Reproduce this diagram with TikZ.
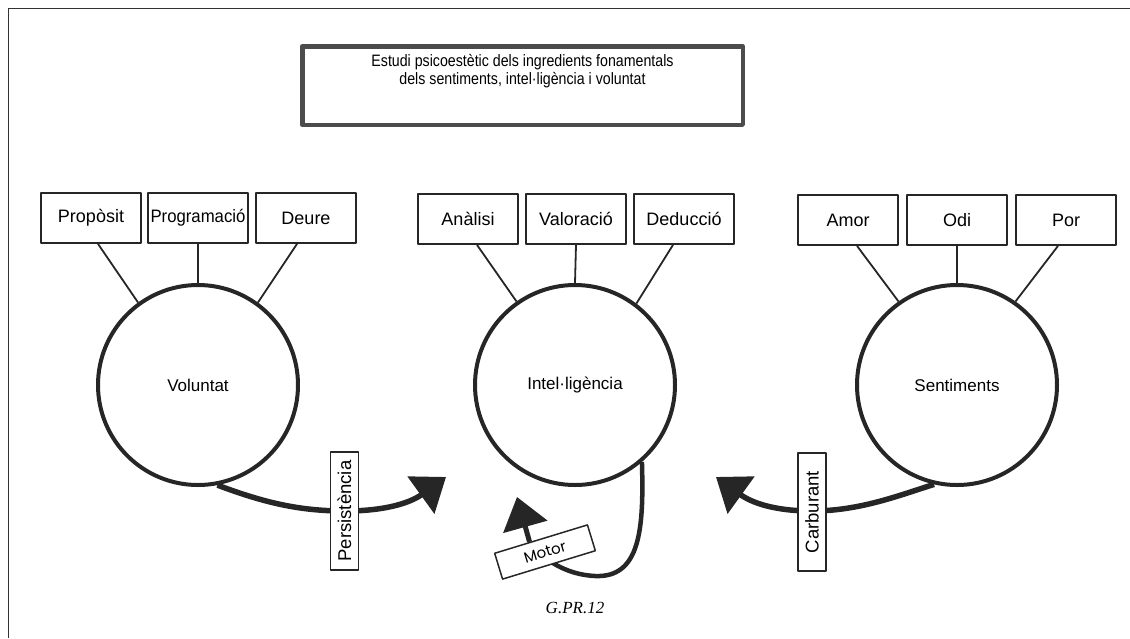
\documentclass[tikz,border=0pt]{standalone}
\usepackage{fontspec}
\setmainfont{Liberation Sans}
\newfontfamily\capfont{Liberation Serif}
\newfontfamily\motorfont{Poppins}
\usetikzlibrary{arrows.meta,calc}
\begin{document}
\begin{tikzpicture}[x=1pt,y=-1pt,line join=round,
  item/.style={draw=black!85,line width=1.8pt,minimum width=100pt,minimum height=50pt,inner sep=0pt,font=\fontsize{18}{20}\selectfont},
  core/.style={circle,draw=black!85,line width=4pt,minimum size=200pt,inner sep=0pt,font=\fontsize{17}{19}\selectfont},
  spoke/.style={draw=black!85,line width=1.8pt},
  flow/.style={draw=black!85,line width=5.5pt},
  tag/.style={draw=black!85,fill=white,line width=1.5pt,inner sep=0pt,minimum width=118pt,minimum height=28pt,font=\fontsize{18.5}{20}\selectfont},
  head/.style={-{Triangle[length=31pt,width=45pt]}},
]
\useasboundingbox (0,0) rectangle (1130,638);
% frame
\draw[black!80,line width=1.6pt] (8.5,638) -- (8.5,8.5) -- (1130,8.5);
% title
\node[draw=black!70,line width=4.5pt,minimum width=440.5pt,minimum height=78.5pt,inner sep=0pt] (title) at (522.5,85.5) {};
\node[inner sep=0pt,font=\fontsize{16.5}{18}\selectfont] (titletext) at (522.5,72) {\scalebox{0.86}[1]{\begin{tabular}{@{}c@{}}Estudi psicoestètic dels ingredients fonamentals\\dels sentiments, intel·ligència i voluntat\end{tabular}}};
% circles
\node[core] (vol) at (198,385) {Voluntat};
\node[core] (int) at (575,385) {Intel·ligència};
\node[core] (sent) at (957,385) {Sentiments};
% boxes
\node[item] (prop) at (91,218) {Propòsit};
\node[item] (progr) at (198,218) {\scalebox{0.93}[1]{Programació}};
\node[item] (deure) at (306,218) {Deure};
\node[item] (anal) at (468,219) {Anàlisi};
\node[item] (valor) at (576,219) {Valoració};
\node[item] (deduc) at (684,219) {Deducció};
\node[item] (amor) at (848,220) {Amor};
\node[item] (odi) at (957,220) {Odi};
\node[item] (por) at (1066,220) {Por};
% spokes
\draw[spoke] ($(prop.south)+(7,0)$) -- (vol.126);
\draw[spoke] (progr.south) -- (vol.90);
\draw[spoke] ($(deure.south)+(-9,0)$) -- (vol.54);
\draw[spoke] ($(anal.south)+(9,0)$) -- (int.125);
\draw[spoke] (valor.south) -- (int.90);
\draw[spoke] ($(deduc.south)+(-11,0)$) -- (int.53);
\draw[spoke] ($(amor.south)+(9,0)$) -- (sent.125);
\draw[spoke] (odi.south) -- (sent.90);
\draw[spoke] ($(por.south)+(-8,0)$) -- (sent.55);
% Persistencia
\coordinate (ptip) at (446,477);
\draw[flow,head] (vol.-79) .. controls (265,503) and (300,511) .. (345,511) .. controls (385,511) and (410,503) .. (ptip);
\node[tag,rotate=90] (pers) at (344.5,511) {Persistència};
% Carburant
\coordinate (ctip) at (716,477);
\draw[flow,head] (sent.-103) .. controls (900,495) and (860,511) .. (812,511) .. controls (775,511) and (752,503) .. (ctip);
\node[tag,rotate=90] (carb) at (812,512) {Carburant};
% Motor
\draw[flow,line width=4.5pt] (int.-49) .. controls (644,530) and (640,578) .. (595,576) .. controls (575,575) and (560,568) .. (548,560);
\node[tag,rotate=17,minimum width=97pt,minimum height=27pt,font=\motorfont\fontsize{15}{17}\selectfont] (mot) at (545,552) {Motor};
\coordinate (mtip) at (517,497);
\draw[flow,line width=5pt,line cap=butt,head] ($(mot.north west)!0.38!(mot.north east)$) -- (mtip);
% caption
\node[font=\capfont\itshape\fontsize{17}{19}\selectfont] (cap) at (575,608) {G.PR.12};
\end{tikzpicture}
\end{document}
